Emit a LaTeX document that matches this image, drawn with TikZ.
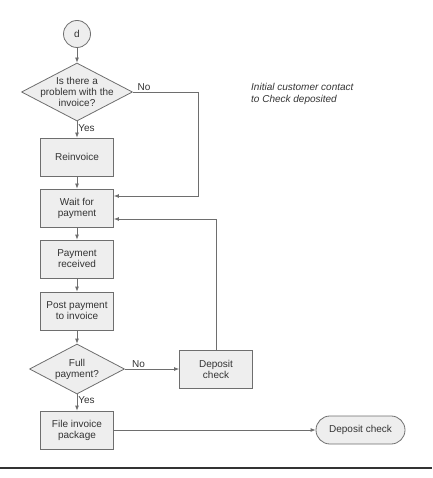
\documentclass[tikz,border=0pt]{standalone}
\usepackage{fontspec}
\setmainfont{Liberation Sans}
\usetikzlibrary{shapes.geometric,arrows.meta}
\definecolor{boxfill}{HTML}{EEEEEE}
\definecolor{lncol}{HTML}{6E6E6E}
\definecolor{txt}{HTML}{333333}
\begin{document}
\begin{tikzpicture}[x=1pt,y=-1pt,
  every node/.style={font=\fontsize{10}{11}\selectfont, text=txt},
  proc/.style={draw=lncol, fill=boxfill, line width=0.8pt, minimum width=73pt, minimum height=38pt, inner sep=0pt, align=center},
  decis/.style={draw=lncol, fill=boxfill, diamond, line width=0.8pt, inner sep=0pt},
  term/.style={draw=lncol, fill=boxfill, line width=0.8pt, minimum width=89pt, minimum height=28pt, inner sep=0pt, rounded corners=13.9pt},
  conn/.style={draw=lncol, line width=0.8pt, -{Latex[length=5pt,width=4pt]}},
  lbl/.style={inner sep=1pt}
]
\useasboundingbox (0,0) rectangle (432,478);
\node[circle, draw=lncol, fill=boxfill, minimum size=27pt, inner sep=0pt, line width=0.8pt] (d) at (77,34) {d};
\node[decis, minimum width=111pt, minimum height=58pt] (q1) at (77,92) {};
\node[align=center] (q1t) at (q1) {Is there a\\problem with the\\invoice?};
\node[proc] (reinv) at (77,157) {Reinvoice};
\node[proc] (wait) at (77,208) {Wait for\\payment};
\node[proc] (recv) at (77,259) {Payment\\received};
\node[proc] (post) at (77,311) {Post payment\\to invoice};
\node[decis, minimum width=95pt, minimum height=50pt] (q2) at (77,369) {};
\node[align=center] (q2t) at (q2) {Full\\payment?};
\node[proc] (dep) at (216,369) {Deposit\\check};
\node[proc] (file) at (77,430) {File invoice\\package};
\node[term] (end) at (360.5,430) {Deposit check};
\coordinate (c1) at (198,92);
\node[anchor=north west, align=left, font=\fontsize{10}{12}\selectfont\itshape, inner sep=0pt] (note) at (251,83) {Initial customer contact\\to Check deposited};

\draw[conn] (d) -- (q1);
\draw[conn] (q1) -- node[lbl, anchor=west, pos=0.4] {Yes} (reinv);
\draw[conn] (reinv) -- (wait);
\draw[conn] (q1.east) -- node[lbl, above, pos=0.17] {No} (c1) |- ([yshift=12pt]wait.east);
\draw[conn] (wait) -- (recv);
\draw[conn] (recv) -- (post);
\draw[conn] (post) -- (q2);
\draw[conn] (q2.east) -- node[lbl, above, pos=0.25] {No} (dep);
\draw[conn] (dep.north) |- ([yshift=-11pt]wait.east);
\draw[conn] (q2) -- node[lbl, anchor=west, pos=0.35] {Yes} (file);
\draw[conn] (file) -- (end);

\draw[line width=1.2pt, black!80] (0,468) -- (432,468);
\node[anchor=base west, inner sep=0pt, font=\fontsize{11}{12}\selectfont] (cap) at (33,486) {\textbf{2.3}\hspace{16pt}\textit{Continued}};
\end{tikzpicture}
\end{document}
